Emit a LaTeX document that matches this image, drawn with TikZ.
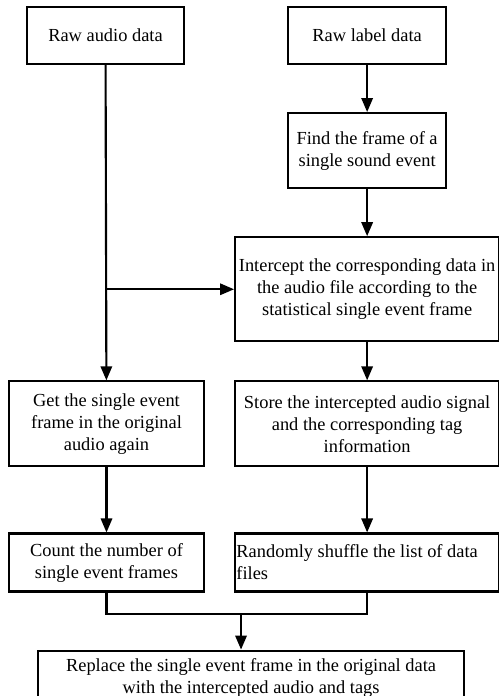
\documentclass[tikz,border=0pt]{standalone}
\usepackage{fontspec}
\setmainfont{Liberation Serif}
\usetikzlibrary{
  arrows.meta,
  positioning,
}
\tikzset{
  proc/.style={
    rectangle,
    draw=black,
    line width=1.6pt,
    align=center,
    inner sep=1pt,
    font=\fontsize{13.8}{16.5}\selectfont,
  },
  arrow/.style={
    line width=1.6pt,
    -{Triangle[length=10.5pt, width=8.5pt]},
  },
  link/.style={
    line width=1.6pt,
  },
}

\begin{document}
\begin{tikzpicture}[x=0.75pt, y=-0.75pt]

  \useasboundingbox (0,0) rectangle (499,696);

  \node[proc, minimum width=117.75pt, minimum height=42.75pt] (audio) at (105.5,35.5) {Raw audio data};
  \node[proc, minimum width=118.5pt, minimum height=42.75pt, right=76.5pt of audio] (label) {Raw label data};

  \node[proc, minimum width=118.5pt, minimum height=56.25pt, below=35.25pt of label] (find)
    {Find the frame of a\\single sound event};
  \node[proc, minimum width=198pt, minimum height=78pt, below=35.25pt of find] (cut)
    {Intercept the corresponding data in\\the audio file according to the\\statistical single event frame};

  \node[proc, minimum width=198pt, minimum height=63.75pt, below=28.5pt of cut] (store)
    {Store the intercepted audio signal\\and the corresponding tag\\information};
  \node[proc, minimum width=146.25pt, minimum height=63.75pt, left=21.75pt of store] (again)
    {Get the single event\\frame in the original\\audio again};

  \node[proc, minimum width=198pt, minimum height=43.5pt, below=48.75pt of store,
        align=flush left, text width=196pt] (shuffle)
    {Randomly shuffle the list of data\\files};
  \node[proc, minimum width=146.25pt, minimum height=43.5pt, below=48.75pt of again] (count)
    {Count the number of\\single event frames};

  \coordinate[below=15.75pt of count.south] (knee);
  \coordinate (join) at ([xshift=100.9pt]knee);

  \node[proc, minimum width=319.5pt, minimum height=41.25pt, below=27pt of join, xshift=7.5pt] (result)
    {Replace the single event frame in the original data\\with the intercepted audio and tags};

  \draw[arrow] (label) -- (find);
  \draw[arrow] (find) -- (cut);
  \draw[arrow] (audio) -- (again);
  \draw[arrow] (audio |- cut.west) -- (cut.west);
  \draw[arrow] (cut) -- (store);
  \draw[arrow] (again) -- (count);
  \draw[arrow] (store) -- (shuffle);

  \draw[link] (count.south) -- (knee) -| (shuffle.south);
  \draw[arrow] (join) -- (join |- result.north);

\end{tikzpicture}
\end{document}
